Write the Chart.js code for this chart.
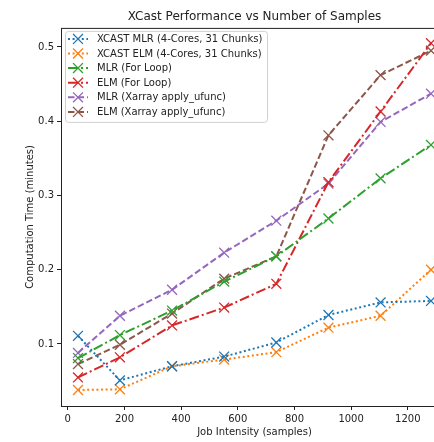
<!DOCTYPE html>
<html>
<head>
<meta charset="utf-8">
<script src="https://cdn.jsdelivr.net/npm/chart.js@4.4.1/dist/chart.umd.min.js"></script>
<style>
  html, body { margin: 0; padding: 0; background: #fff; overflow: hidden; }
  #wrap { width: 460px; height: 442px; }
</style>
</head>
<body>
<div id="wrap"><canvas id="chart" width="460" height="442"></canvas></div>
<script>
// job intensity (samples) on x
const samples = [36, 184, 368, 552, 736, 920, 1104, 1282];

// computation time in minutes
const xcastMlr = [0.111, 0.051, 0.070, 0.083, 0.102, 0.139, 0.156, 0.158];
const xcastElm = [0.038, 0.039, 0.070, 0.079, 0.089, 0.122, 0.138, 0.200];
const mlrLoop  = [0.081, 0.112, 0.145, 0.184, 0.218, 0.269, 0.323, 0.368];
const elmLoop  = [0.055, 0.082, 0.125, 0.149, 0.181, 0.318, 0.413, 0.505];
const mlrXr    = [0.088, 0.138, 0.173, 0.223, 0.266, 0.316, 0.399, 0.437];
const elmXr    = [0.073, 0.099, 0.141, 0.188, 0.218, 0.381, 0.462, 0.495];

const seriesLabels = [
  "XCAST MLR (4-Cores, 31 Chunks)",
  "XCAST ELM (4-Cores, 31 Chunks)",
  "MLR (For Loop)",
  "ELM (For Loop)",
  "MLR (Xarray apply_ufunc)",
  "ELM (Xarray apply_ufunc)"
];
const xTicks = [0, 200, 400, 600, 800, 1000, 1200];
const yTicks = [0.1, 0.2, 0.3, 0.4, 0.5];

const FONT = "'DejaVu Sans', sans-serif";
const DOTTED = [2, 2.6];
const DASHDOT = [10, 3, 2, 3];
const DASHED = [6.5, 3];

function mkSet(label, values, color, dash) {
  return {
    label: label,
    data: values.map((v, i) => ({ x: samples[i], y: v })),
    borderColor: color,
    backgroundColor: color,
    borderWidth: 2,
    borderDash: dash,
    pointStyle: "crossRot",
    pointRadius: 7,
    pointBorderWidth: 1.3,
    pointBorderColor: color,
    tension: 0,
    fill: false
  };
}

const datasets = [
  mkSet(seriesLabels[0], xcastMlr, "#1f77b4", DOTTED),
  mkSet(seriesLabels[1], xcastElm, "#ff7f0e", DOTTED),
  mkSet(seriesLabels[2], mlrLoop, "#2ca02c", DASHDOT),
  mkSet(seriesLabels[3], elmLoop, "#d62728", DASHDOT),
  mkSet(seriesLabels[4], mlrXr, "#9467bd", DASHED),
  mkSet(seriesLabels[5], elmXr, "#8c564b", DASHED)
];

// frame (all four spines) + legend box in upper left
const frameAndLegend = {
  id: "frameAndLegend",
  afterDatasetsDraw(chart) {
    const ctx = chart.ctx;
    const a = chart.chartArea;
    ctx.save();
    ctx.strokeStyle = "#222";
    ctx.lineWidth = 1;
    ctx.setLineDash([]);
    ctx.strokeRect(a.left + 0.5, a.top + 0.5, a.right - a.left, a.bottom - a.top);

    // legend
    const bx = a.left + 4, by = a.top + 3, bw = 202, bh = 91;
    ctx.beginPath();
    ctx.roundRect(bx + 0.5, by + 0.5, bw, bh, 3);
    ctx.fillStyle = "rgba(255,255,255,0.85)";
    ctx.fill();
    ctx.strokeStyle = "#d0d0d0";
    ctx.stroke();

    chart.data.datasets.forEach((ds, i) => {
      const y = by + 8 + i * 14.6;
      ctx.strokeStyle = ds.borderColor;
      ctx.lineWidth = 2;
      ctx.setLineDash(ds.borderDash);
      ctx.beginPath();
      ctx.moveTo(bx + 3, y);
      ctx.lineTo(bx + 23, y);
      ctx.stroke();
      ctx.setLineDash([]);
      ctx.lineWidth = 1.3;
      const r = 7 * Math.SQRT1_2;
      ctx.beginPath();
      ctx.moveTo(bx + 13 - r, y - r); ctx.lineTo(bx + 13 + r, y + r);
      ctx.moveTo(bx + 13 - r, y + r); ctx.lineTo(bx + 13 + r, y - r);
      ctx.stroke();
      ctx.fillStyle = "#222";
      ctx.font = "10px " + FONT;
      ctx.textBaseline = "middle";
      ctx.textAlign = "left";
      ctx.fillText(ds.label, bx + 32, y + 0.5);
    });
    ctx.restore();
  }
};

const chart = new Chart(document.getElementById("chart").getContext("2d"), {
  type: "line",
  data: { datasets: datasets },
  plugins: [frameAndLegend],
  options: {
    responsive: false,
    animation: false,
    layout: { padding: { left: 0, right: 12, top: 0, bottom: 0 } },
    plugins: {
      legend: { display: false },
      tooltip: { enabled: false },
      title: {
        display: true,
        fullSize: false,
        text: "XCast Performance vs Number of Samples",
        color: "#222",
        font: { family: FONT, size: 12, weight: "normal" },
        padding: { top: 9.5, bottom: 4 }
      }
    },
    scales: {
      x: {
        type: "linear",
        min: -24,
        max: 1342,
        afterFit: s => { s.height = 36; },
        afterBuildTicks: s => { s.ticks = xTicks.map(v => ({ value: v })); },
        grid: { display: true, drawOnChartArea: false, drawTicks: true, tickLength: 4, color: "#222" },
        border: { display: false },
        ticks: { color: "#222", font: { family: FONT, size: 10 }, padding: 3, maxRotation: 0,
                 callback: v => String(v) },
        title: { display: true, text: "Job Intensity (samples)", color: "#222",
                 font: { family: FONT, size: 10 }, padding: { top: 0, bottom: 4 } }
      },
      y: {
        type: "linear",
        min: 0.0165,
        max: 0.5256,
        afterFit: s => { s.width = 61; },
        afterBuildTicks: s => { s.ticks = yTicks.map(v => ({ value: v })); },
        grid: { display: true, drawOnChartArea: false, drawTicks: true, tickLength: 4, color: "#222" },
        border: { display: false },
        ticks: { color: "#222", font: { family: FONT, size: 10 }, padding: 3,
                 callback: v => v.toFixed(1) },
        title: { display: true, text: "Computation Time (minutes)", color: "#222",
                 font: { family: FONT, size: 10 }, padding: { top: 24, bottom: 0 } }
      }
    }
  }
});
</script>
</body>
</html>
